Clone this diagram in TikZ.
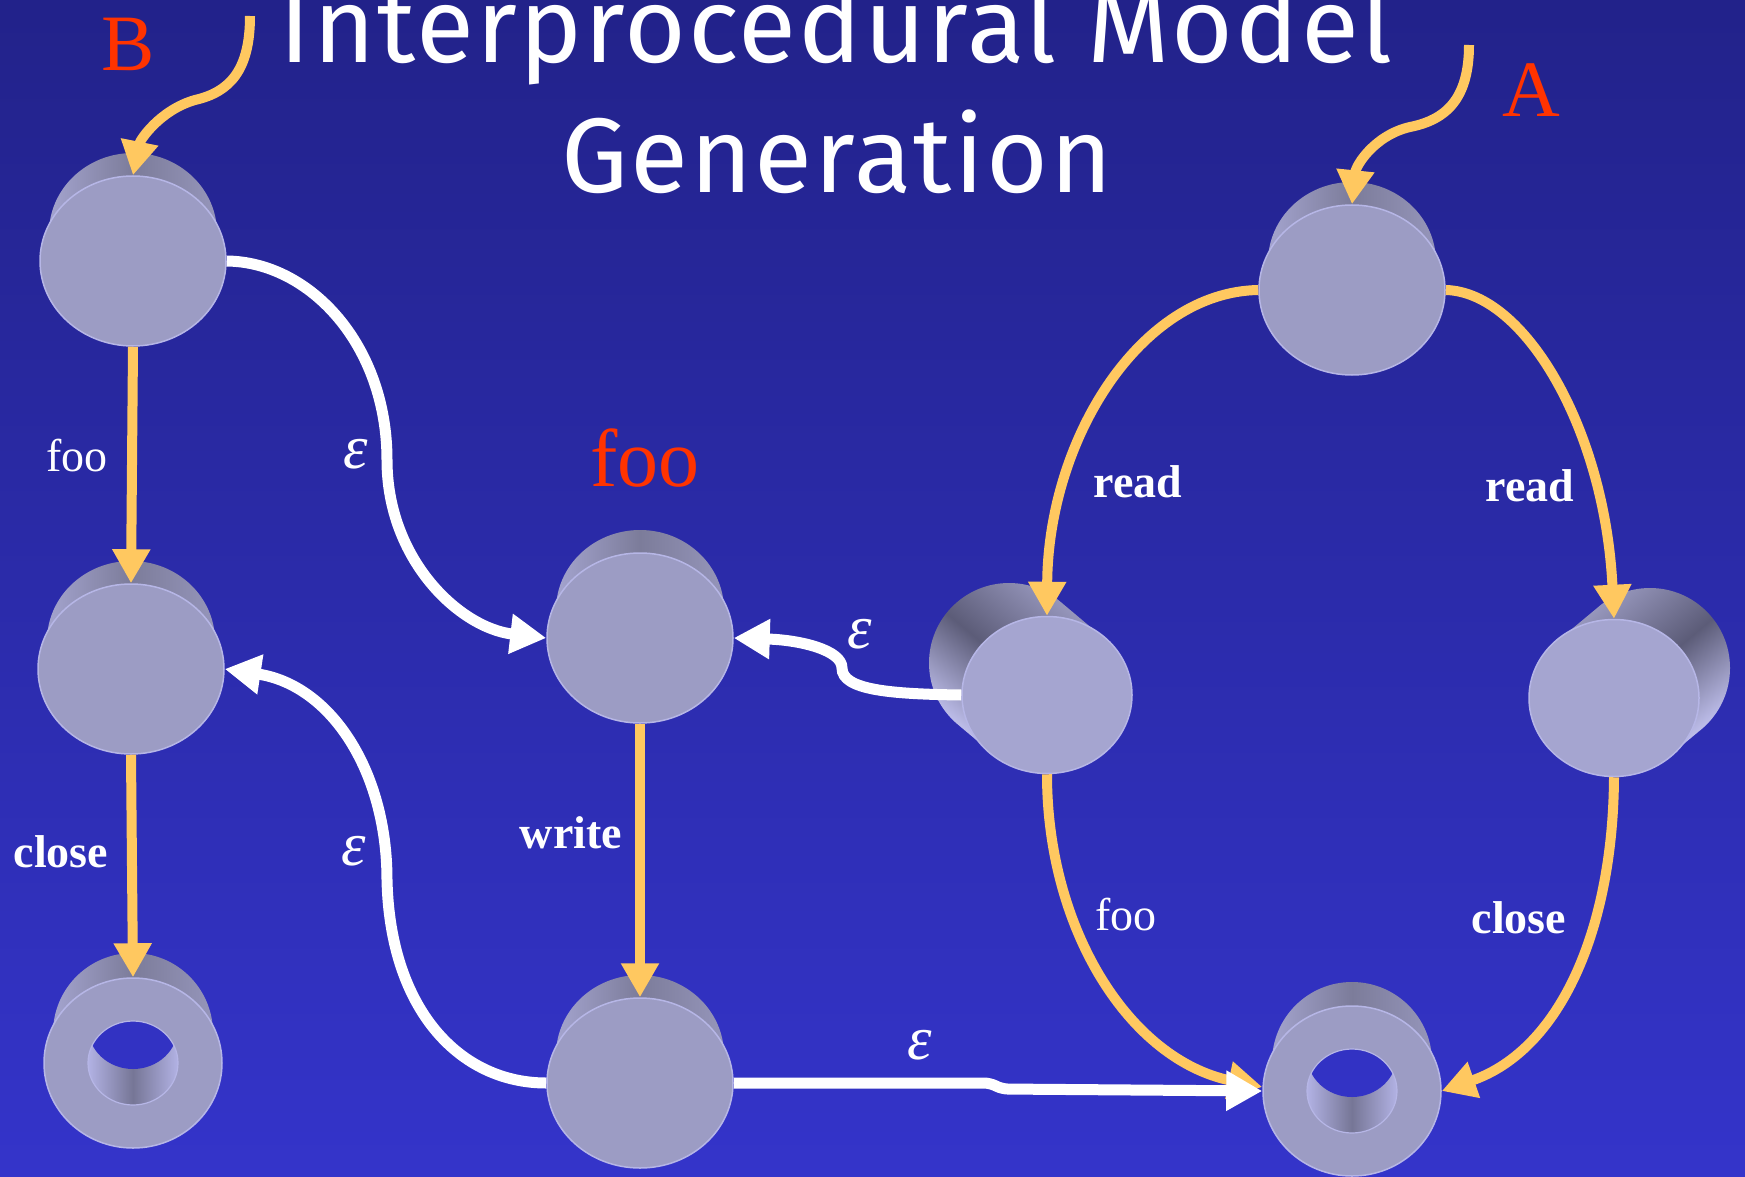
\documentclass[tikz,border=0pt]{standalone}
\usepackage{fontspec}
\setmainfont{Liberation Serif}
\newfontfamily\titlefont[LetterSpace=2]{Fira Sans}
\usetikzlibrary{shapes.geometric,arrows.meta}

\definecolor{bgtop}{RGB}{34,34,138}
\definecolor{bgbot}{RGB}{52,52,202}
\definecolor{facecol}{RGB}{156,156,196}
\definecolor{facetilt}{RGB}{165,165,208}
\definecolor{rimcol}{RGB}{182,182,230}
\definecolor{sidelight}{RGB}{168,168,212}
\definecolor{sidedark}{RGB}{124,124,154}
\definecolor{sidemid}{RGB}{152,152,190}
\definecolor{tiltdark}{RGB}{92,92,120}
\definecolor{tiltlight}{RGB}{198,198,244}
\definecolor{holelight}{RGB}{178,178,228}
\definecolor{holedark}{RGB}{118,118,150}
\definecolor{orangeedge}{RGB}{255,200,96}
\definecolor{redtext}{RGB}{255,51,0}

\tikzset{
  stateface/.style={ellipse, fill=facecol, draw=rimcol, line width=1.5pt,
    minimum width=186pt, minimum height=170pt, inner sep=0pt},
  ringface/.style={stateface, minimum width=178pt},
  tiltface/.style={stateface, fill=facetilt, minimum width=170pt, minimum height=157pt},
  calledge/.style={white, line width=11pt, -{Triangle[length=36pt,width=38pt]}},
  opedge/.style={orangeedge, line width=10pt, -{Triangle[length=34pt,width=36pt]}},
  oplabel/.style={text=white, font=\fontsize{46}{46}\selectfont\bfseries, anchor=base, inner sep=0pt},
  fnlabel/.style={text=white, font=\fontsize{46}{46}\selectfont, anchor=base, inner sep=0pt},
  epslabel/.style={text=white, font=\fontsize{62}{62}\selectfont\itshape, inner sep=0pt},
  redlabel/.style={text=redtext, anchor=base, inner sep=0pt},
  titletext/.style={text=white, font=\titlefont\fontsize{106}{106}\selectfont, anchor=base, inner sep=0pt},
}

% back part of an upright cylinder: cx, cy (downwards), offset, back rx, back ry, front rx
\newcommand\uprightside[6]{%
  \shade[left color=sidelight, right color=sidemid, middle color=sidedark]
    (#1,-#2+#3) ellipse [x radius=#4, y radius=#5]
    (#1+#6,-#2) -- (#1+#4,-#2+#3) -- (#1-#4,-#2+#3) -- (#1-#6,-#2) -- cycle;}

% hole of a final state: cx, cy (downwards)
\newcommand\ringhole[2]{%
  \shade[left color=holelight, right color=holelight, middle color=holedark]
    (#1,-#2) ellipse [x radius=45, y radius=42];
  \begin{scope}
    \clip (#1,-#2) ellipse [x radius=45, y radius=42];
    \clip (#1,-#2+36) ellipse [x radius=45, y radius=42];
    \shade[top color=bgtop, bottom color=bgbot] (0,0) rectangle (1745,-1177);
  \end{scope}
  \draw[rimcol, line width=1.2pt] (#1,-#2) ellipse [x radius=45, y radius=42];}

\begin{document}
\begin{tikzpicture}[x=1pt,y=1pt]
\useasboundingbox (0,0) rectangle (1745,-1177);
\shade[top color=bgtop, bottom color=bgbot] (0,0) rectangle (1745,-1177);

% title
\node[titletext] (title1) at (836,-63) {Interprocedural Model};
\node[titletext] (title2) at (837,-193) {Generation};

% cylinder sides
\uprightside{133}{261}{28}{84}{80}{93}
\uprightside{131}{669}{28}{84}{80}{93}
\uprightside{133}{1063}{30}{80}{80}{89}
\uprightside{640}{638}{28}{84}{80}{93}
\uprightside{640}{1083}{28}{84}{80}{93}
\uprightside{1352}{290}{28}{84}{80}{93}
\uprightside{1352}{1091}{29}{80}{80}{89}
% tilted cylinder A2 (side towards upper left)
\shade[top color=sidemid, bottom color=tiltlight, middle color=tiltdark, shading angle=-40]
  (1009,-663) circle [radius=80]
  (1098.5,-633.8) -- (1060.5,-601.8) -- (957.5,-724.2) -- (995.5,-756.2) -- cycle;
% tilted cylinder A3 (side towards upper right)
\shade[top color=sidemid, bottom color=tiltlight, middle color=tiltdark, shading angle=40]
  (1650,-668) circle [radius=80]
  (1665.2,-759.4) -- (1701.2,-729.4) -- (1598.8,-606.6) -- (1562.8,-636.6) -- cycle;

% state faces
\node[stateface] (b1) at (133,-261) {};
\node[stateface] (b2) at (131,-669) {};
\node[ringface]  (b3) at (133,-1063) {};
\node[stateface] (f1) at (640,-638) {};
\node[stateface] (f2) at (640,-1083) {};
\node[stateface] (a1) at (1352,-290) {};
\node[tiltface]  (a2) at (1047,-695) {};
\node[tiltface]  (a3) at (1614,-698) {};
\node[ringface]  (a4) at (1352,-1091) {};
\ringhole{133}{1063}
\ringhole{1352}{1091}

% entry arrows
\coordinate (entB) at (250,-16);
\coordinate (entA) at (1469,-45);
\draw[opedge] (entB) .. controls (250,-70) and (230,-92) .. (195,-100)
  .. controls (160,-110) and (140,-140) .. (b1.north);
\draw[opedge] (entA) .. controls (1469,-100) and (1445,-120) .. (1410,-127)
  .. controls (1375,-135) and (1356,-165) .. (a1.north);

% program B
\draw[opedge] (b1.south) -- (b2.north);
\draw[opedge] (b2.south) -- (b3.north);
\draw[calledge] (b1.east) .. controls (310,-262) and (387,-345) .. (387,-460)
  .. controls (387,-560) and (460,-628) .. (f1.west);
\draw[calledge] (f2.west) .. controls (460,-1083) and (390,-1010) .. (387,-880)
  .. controls (387,-770) and (330,-685) .. (b2.east);

% function foo
\draw[opedge] (f1.south) -- (f2.north);

% program A
\draw[opedge] (a1.west) .. controls (1140,-292) and (1048,-440) .. (a2.north);
\draw[opedge] (a1.east) .. controls (1525,-292) and (1605,-430) .. (a3.north);
\draw[opedge] (a2.south) .. controls (1047,-930) and (1130,-1060) .. ([yshift=4pt]a4.west);
\draw[opedge] (a3.south) .. controls (1613,-930) and (1560,-1050) .. (a4.east);
\draw[calledge] (a2.west) .. controls (890,-694) and (842,-690) .. (842,-668)
  .. controls (842,-650) and (800,-640) .. (f1.east);
\draw[calledge, rounded corners=6pt] (f2.east) -- (990,-1083) -- (1002,-1089) -- (a4.west);

% labels
\node[redlabel, font=\fontsize{80}{80}\selectfont] (lblB) at (128,-71) {B};
\node[redlabel, font=\fontsize{80}{80}\selectfont] (lblA) at (1531,-117) {A};
\node[redlabel, font=\fontsize{82}{82}\selectfont] (lblfoo) at (645,-486) {foo};

\node[fnlabel] (lb1) at (77,-471) {foo};
\node[oplabel] (lb2) at (61,-867) {close};
\node[oplabel] (lf1) at (571,-848) {write};
\node[oplabel] (la1) at (1138,-497) {read};
\node[oplabel] (la2) at (1530,-501) {read};
\node[fnlabel] (la3) at (1126,-930) {foo};
\node[oplabel] (la4) at (1519,-933) {close};

\node[epslabel] (e1) at (356,-454) {ε};
\node[epslabel] (e2) at (354,-851) {ε};
\node[epslabel] (e3) at (860,-634) {ε};
\node[epslabel] (e4) at (920,-1045) {ε};
\end{tikzpicture}
\end{document}
